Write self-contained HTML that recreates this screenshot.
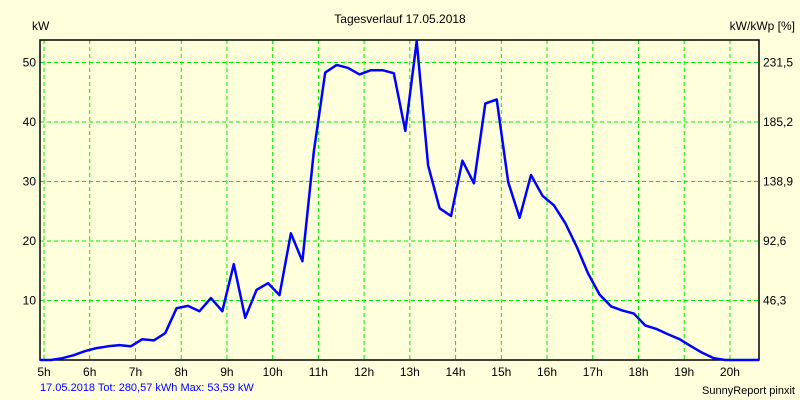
<!DOCTYPE html>
<html><head><meta charset="utf-8"><style>
body{margin:0;background:#ffffdc;}
svg{display:block;font-family:"Liberation Sans",sans-serif;}
</style></head><body>
<svg id="c" width="800" height="400">
<rect width="800" height="400" fill="#ffffdc"/>
<text x="400" y="23" font-size="12" text-anchor="middle">Tagesverlauf 17.05.2018</text>
<text x="32" y="30" font-size="12">kW</text>
<text x="795" y="30" font-size="12" text-anchor="end">kW/kWp [%]</text>
<text x="40" y="391" font-size="11" fill="#0000ff">17.05.2018 Tot: 280,57 kWh Max: 53,59 kW</text>
<text x="795" y="394" font-size="11" text-anchor="end">SunnyReport pinxit</text>
<g id="grid"></g><g id="axes"></g>
</svg>
<script>
const hourTicks=[5,6,7,8,9,10,11,12,13,14,15,16,17,18,19,20];
const yTicks=[10,20,30,40,50];
const yTicksRight=["46,3","92,6","138,9","185,2","231,5"];
const times=[4.9,5.15,5.4,5.65,5.9,6.15,6.4,6.65,6.9,7.15,7.4,7.65,7.9,8.15,8.4,8.65,8.9,9.15,9.4,9.65,9.9,10.15,10.4,10.65,10.9,11.15,11.4,11.65,11.9,12.15,12.4,12.65,12.9,13.15,13.4,13.65,13.9,14.15,14.4,14.65,14.9,15.15,15.4,15.65,15.9,16.15,16.4,16.65,16.9,17.15,17.4,17.65,17.9,18.15,18.4,18.65,18.9,19.15,19.4,19.65,19.9,20.15,20.4,20.66];
const power=[0,0,0.3,0.8,1.5,2,2.3,2.5,2.3,3.5,3.3,4.5,8.7,9.1,8.2,10.4,8.2,16.1,7.1,11.8,12.9,10.9,21.3,16.6,35,48.3,49.6,49.1,48,48.7,48.7,48.2,38.5,53.6,32.7,25.5,24.2,33.5,29.7,43.1,43.8,29.9,23.9,31.1,27.6,26,23,19,14.5,11,9,8.3,7.8,5.8,5.2,4.3,3.5,2.3,1.2,0.3,0,0,0,0];
const NS="http://www.w3.org/2000/svg";
const L=40,R=759,T=40,B=360;
const X=h=>44+(h-5)*45.73;
const Y=v=>B-v*5.95;
const g=document.getElementById('grid'),a=document.getElementById('axes');
function mk(tag,at,p){const e=document.createElementNS(NS,tag);for(const k in at)e.setAttribute(k,at[k]);p.appendChild(e);return e;}
hourTicks.forEach(h=>{
 const l=mk('line',{x1:X(h),x2:X(h),y1:T,y2:B,stroke:'#00ee00','stroke-dasharray':'4,3'},g);
 
 
 const t=mk('text',{x:X(h),y:376,'font-size':12,'text-anchor':'middle'},a);t.textContent=h+'h';
 
 
});
yTicks.forEach((v,i)=>{
 const l=mk('line',{x1:L,x2:R,y1:Y(v),y2:Y(v),stroke:'#00ee00','stroke-dasharray':'4,3'},g);
 
 
 const t=mk('text',{x:36,y:Y(v)+4,'font-size':12,'text-anchor':'end'},a);t.textContent=v;
 
 
 const t2=mk('text',{x:763,y:Y(v)+4,'font-size':12},a);t2.textContent=yTicksRight[i];
 
 
});
const f=mk('rect',{x:L,y:T,width:R-L,height:B-T,fill:'none',stroke:'#000','stroke-width':1.5},a);


const pl=mk('polyline',{points:times.map((t,i)=>Math.min(R,Math.max(L,X(t))).toFixed(1)+','+Math.max(T,Y(power[i])).toFixed(1)).join(' '),fill:'none',stroke:'#0000ff','stroke-width':2.5,'stroke-linejoin':'round'},a);


</script>
</body></html>
